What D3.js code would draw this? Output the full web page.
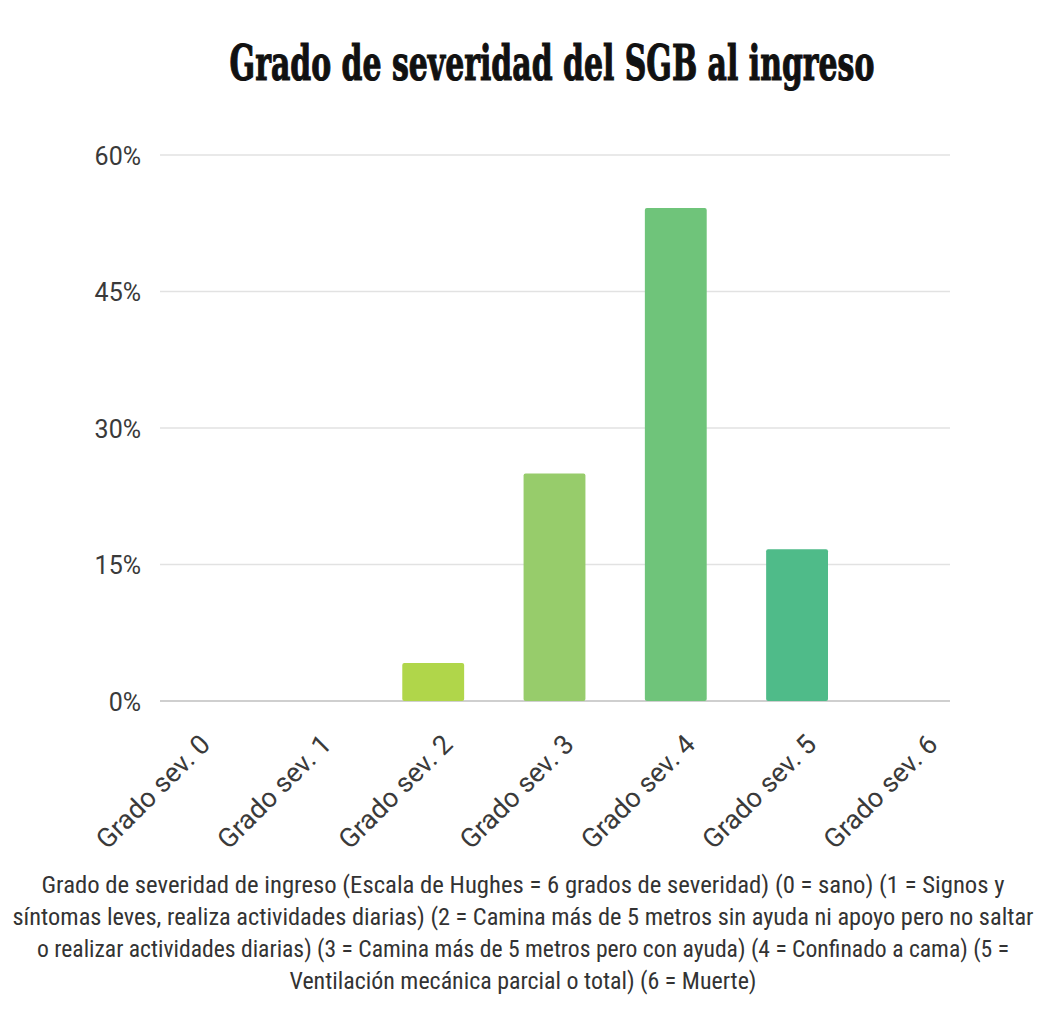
<!DOCTYPE html>
<html>
<head>
<meta charset="utf-8">
<script src="https://cdn.jsdelivr.net/npm/d3@7"></script>
<style>
  html, body { margin: 0; padding: 0; background: #ffffff; }
  svg { display: block; }
</style>
</head>
<body>
<svg id="chart" width="1045" height="1015"></svg>
<script>
// Severity grades at admission (Hughes scale) and share of patients in each
const categories = ["Grado sev. 0", "Grado sev. 1", "Grado sev. 2", "Grado sev. 3", "Grado sev. 4", "Grado sev. 5", "Grado sev. 6"];
const values = [0, 0, 4.17, 25, 54.17, 16.67, 0];
const barColors = ["#c6dd3e", "#bcd94a", "#b0d64a", "#97cc6b", "#6fc47a", "#4fbb89", "#3db392"];
const yTicks = [0, 15, 30, 45, 60];
const titleText = "Grado de severidad del SGB al ingreso";
const noteLines = [
  "Grado de severidad de ingreso (Escala de Hughes = 6 grados de severidad) (0 = sano) (1 = Signos y",
  "síntomas leves, realiza actividades diarias) (2 = Camina más de 5 metros sin ayuda ni apoyo pero no saltar",
  "o realizar actividades diarias) (3 = Camina más de 5 metros pero con ayuda) (4 = Confinado a cama) (5 =",
  "Ventilación mecánica parcial o total) (6 = Muerte)"
];
const noteWidths = [963, 1021, 972, 467];

const svg = d3.select("#chart");

const y = d3.scaleLinear().domain([0, 60]).range([701, 155]);
const x = d3.scaleBand().domain(categories).range([130, 979])
  .paddingInner(0.49).paddingOuter(0.245);

// Title: a heavy serif, squeezed horizontally to a fixed width
const titleG = svg.append("g");
const title = titleG.append("text")
  .attr("x", 0).attr("y", 0)
  .attr("text-anchor", "middle")
  .attr("font-family", "'DejaVu Serif', 'Liberation Serif', serif")
  .attr("font-weight", 900)
  .attr("font-size", 48)
  .attr("stroke", "#111")
  .attr("stroke-width", 1.2)
  .attr("fill", "#111")
  .text(titleText);
const natural = title.node().getComputedTextLength();
titleG.attr("transform", `translate(552,80) scale(${645 / natural},1)`);

// Horizontal gridlines
svg.append("g").selectAll("line").data(yTicks).join("line")
  .attr("x1", 160).attr("x2", 950)
  .attr("y1", d => y(d)).attr("y2", d => y(d))
  .attr("stroke", d => d === 0 ? "#cfcfcf" : "#e2e2e2")
  .attr("stroke-width", d => d === 0 ? 2 : 1.5);

// Y axis labels
const yAxis = d3.axisLeft(y).tickValues(yTicks).tickFormat(d => d + "%").tickSize(0).tickPadding(0);
const gy = svg.append("g").attr("transform", "translate(141,0)").call(yAxis);
gy.select(".domain").remove();
gy.selectAll("text")
  .attr("font-family", "Roboto, 'Liberation Sans', sans-serif")
  .attr("font-size", 25)
  .attr("fill", "#3a3a3a")
  .attr("dy", "0.36em");

// Bars
svg.append("g").selectAll("rect").data(values).join("rect")
  .attr("x", (d, i) => x(categories[i]))
  .attr("width", x.bandwidth())
  .attr("y", d => y(d))
  .attr("height", d => y(0) - y(d))
  .attr("rx", 2)
  .attr("fill", (d, i) => barColors[i]);

// X axis labels, rotated
const xAxis = d3.axisBottom(x).tickSize(0).tickPadding(0);
const gx = svg.append("g").attr("transform", "translate(0,701)").call(xAxis);
gx.select(".domain").remove();
gx.selectAll("text")
  .attr("font-family", "Roboto, 'Liberation Sans', sans-serif")
  .attr("font-size", 27)
  .attr("fill", "#3a3a3a")
  .attr("text-anchor", "end")
  .attr("dy", null)
  .attr("y", 0)
  .attr("transform", "translate(21,45) rotate(-45)");

// Footnote
svg.append("g").selectAll("text").data(noteLines).join("text")
  .attr("x", 523)
  .attr("y", (d, i) => 893 + i * 32)
  .attr("text-anchor", "middle")
  .attr("font-family", "'Liberation Sans Narrow', 'Roboto Condensed', Roboto, sans-serif")
  .attr("font-size", 23)
  .attr("fill", "#333")
  .attr("textLength", (d, i) => noteWidths[i])
  .attr("lengthAdjust", "spacingAndGlyphs")
  .text(d => d);
</script>
</body>
</html>
